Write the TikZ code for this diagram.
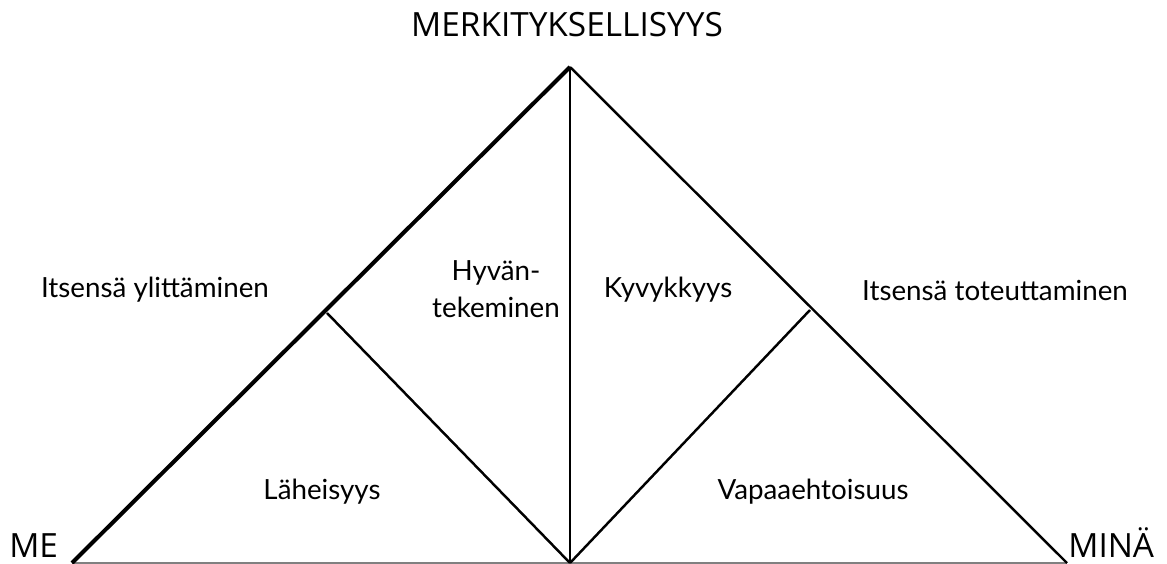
\documentclass[tikz,border=0pt]{standalone}
\usepackage{fontspec}
\setmainfont{Lato}
\newfontfamily\titlefont{Open Sans}

\begin{document}
\begin{tikzpicture}[x=0.02cm, y=-0.02cm]
\tikzset{osa/.style={font=\fontsize{15.8}{21}\selectfont, align=center, inner sep=0pt},
  kulma/.style={font=\titlefont\fontsize{19}{21}\selectfont, inner sep=0pt},
  viiva/.style={line width=1.4pt, line join=miter}}
\useasboundingbox (0, 0) rectangle (1167, 564);
\coordinate (Huippu) at (570, 67);
\coordinate (Vasen) at (72, 563);
\coordinate (Oikea) at (1067, 563);
\coordinate (Keski) at (570, 563);
\coordinate (VasenRaja) at (327, 313);
\coordinate (OikeaRaja) at (810, 310);
\draw[gray, line width=0.8pt] (Vasen) -- (Oikea);
\draw[line width=2.3pt] (Vasen) -- (Huippu);
\draw[viiva] (Huippu) -- (Oikea);
\draw[viiva] (Huippu) -- (Keski);
\draw[viiva] (VasenRaja) -- (Keski);
\draw[viiva] (OikeaRaja) -- (Keski);
\node[kulma] (Merkitys) at (567, 25) {MERKITYKSELLISYYS};
\node[kulma, anchor=base west] (Me) at (9, 557) {ME};
\node[kulma, anchor=base west] (Mina) at (1068, 557) {MINÄ};
\node[osa] (Ylitys) at (155, 290) {Itsensä ylittäminen};
\node[osa] (Hyva) at (496, 289) {Hyvän-\\tekeminen};
\node[osa] (Kyky) at (668, 290) {Kyvykkyys};
\node[osa] (Toteutus) at (995, 290) {Itsensä toteuttaminen};
\node[osa] (Laheisyys) at (322, 492) {Läheisyys};
\node[osa] (Vapaus) at (813, 492) {Vapaaehtoisuus};
\end{tikzpicture}
\end{document}
